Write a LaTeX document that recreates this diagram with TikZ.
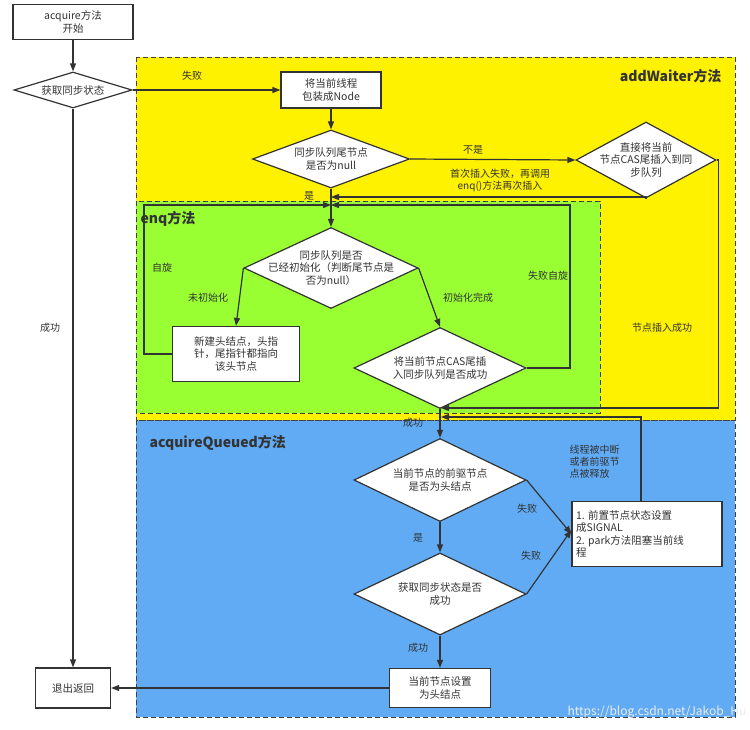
\documentclass[tikz,border=0pt]{standalone}
\usepackage{fontspec}
\setmainfont{Noto Sans CJK SC}
\usetikzlibrary{shapes.geometric,arrows.meta}
\begin{document}
\begin{tikzpicture}[x=1pt,y=-1pt,
  every node/.style={font=\fontsize{10.5}{12.5}\selectfont,text=black!80},
  box/.style={draw=black!80,line width=1.2pt,fill=white,align=center,inner sep=2pt},
  dia/.style={draw=black!80,line width=1.2pt,fill=white,diamond,aspect=2,align=center,inner sep=-8pt},
  ln/.style={draw=black!80,line width=1.2pt},
  ar/.style={ln,-{Triangle[length=8pt,width=6pt]}},
  lab/.style={font=\fontsize{10}{12}\selectfont,text=black!80},
  region/.style={draw=black!75,line width=1pt,dash pattern=on 5pt off 3pt},
  ttl/.style={font=\fontsize{14}{16}\selectfont\bfseries,text=black!80}]
\useasboundingbox (0,0) rectangle (750,729);
\fill[white] (0,0) rectangle (750,729);
% regions
\fill[yellow] (136,57) rectangle (735,420);
\fill[fill={rgb,255:red,97;green,171;blue,245}] (136,420) rectangle (735,717);
\fill[fill={rgb,255:red,153;green,255;blue,51}] (136,201) rectangle (600,413);
\draw[region] (136,57) rectangle (735,420);
\draw[region] (136,201) rectangle (600,413);
\draw[region] (136,420) rectangle (735,717);
\node[ttl,anchor=east] (t1) at (725,76) {addWaiter方法};
\node[ttl,anchor=west] (t2) at (137,219) {enq方法};
\node[ttl,anchor=west] (t3) at (146,443) {acquireQueued方法};
% left column
\node[box,minimum width=120pt,minimum height=35pt] (start) at (73,22) {acquire方法\\开始};
\node[dia,minimum width=118pt,minimum height=36pt] (get) at (73,90) {获取同步状态};
\node[box,minimum width=75pt,minimum height=40pt] (exit) at (73,688) {退出返回};
% addWaiter
\node[box,minimum width=100pt,minimum height=36pt] (wrap) at (331,90) {将当前线程\\包装成Node};
\node[dia,minimum width=157pt,minimum height=58pt] (tail) at (331,159) {同步队列尾节点\\是否为null};
\node[dia,minimum width=140pt,minimum height=76pt] (cas1) at (646,160) {直接将当前\\节点CAS尾插入到同\\步队列};
% enq
\node[dia,minimum width=174pt,minimum height=81pt] (init) at (331,268) {同步队列是否\\已经初始化（判断尾节点是\\否为null）};
\node[box,minimum width=127pt,minimum height=55pt] (newh) at (236,354) {新建头结点，头指\\针，尾指针都指向\\该头节点};
\node[dia,minimum width=172pt,minimum height=81pt] (cas2) at (440,368) {将当前节点CAS尾插\\入同步队列是否成功};
% acquireQueued
\node[dia,minimum width=172pt,minimum height=83pt] (pred) at (440,480) {当前节点的前驱节点\\是否为头结点};
\node[dia,minimum width=172pt,minimum height=82pt] (acq) at (440,594) {获取同步状态是否\\成功};
\node[box,minimum width=150pt,minimum height=65pt,align=left,text width=142pt] (park) at (647,534) {1.\ 前置节点状态设置\\成SIGNAL\\2.\ park方法阻塞当前线\\程};
\node[box,minimum width=101pt,minimum height=39pt] (head) at (440,688) {当前节点设置\\为头结点};
% coordinates
\coordinate (j1) at (331,197);
\coordinate (j2) at (331,205);
\coordinate (j3) at (441,408);
\coordinate (j4) at (441,417);
% connectors
\draw[ar] (get.east) -- (wrap.west);
\node[lab] (l1) at (192,76) {失败};
\draw[ar] (start) -- (get);
\draw[ar] (get) -- (exit);
\node[lab] (l2) at (50,328) {成功};
\draw[ar] (wrap) -- (tail);
\draw[ar] (tail.east) -- (cas1.west);
\node[lab] (l3) at (473,150) {不是};
\node[lab,align=center] (l4) at (500,180) {首次插入失败，再调用\\enq()方法再次插入};
\draw[ar] (cas1.south) |- (j1);
\draw[ar] (tail.south) -- (init.north);
\node[lab] (l5) at (309,196) {是};
\draw[ar] (cas1.east) -- ++(2,0) |- (j3);
\node[lab] (l6) at (662,328) {节点插入成功};
\draw[ar] (newh.west) -- (144,354) |- (j2);
\node[lab] (l7) at (162,268) {自旋};
\draw[ar] (cas2.east) -- (570,368) |- (j2);
\node[lab] (l8) at (548,276) {失败自旋};
\draw[ar] (init.west) -- (newh.north);
\node[lab] (l9) at (208,298) {未初始化};
\draw[ar] (init.east) -- (cas2.north);
\node[lab] (l10) at (468,298) {初始化完成};
\draw[ar] (cas2.south) -- (pred.north);
\node[lab] (l11) at (413,423) {成功};
\draw[ar] (pred.south) -- (acq.north);
\node[lab] (l12) at (418,538) {是};
\draw[ar] (pred.east) -- (park.west);
\node[lab] (l13) at (527,509) {失败};
\draw[ar] (acq.east) -- ([yshift=4pt]park.west);
\node[lab] (l14) at (531,556) {失败};
\draw[ar] (641,502) |- (j4);
\node[lab,align=left,anchor=west] (l15) at (566,462) {线程被中断\\或者前驱节\\点被释放};
\draw[ar] (acq.south) -- (head.north);
\node[lab] (l16) at (418,648) {成功};
\draw[ar] (head.west) -- (exit.east);
\node[font=\fontsize{12}{14}\selectfont,text=white!85!gray,anchor=east] (wm) at (750,712) {https://blog.csdn.net/Jakob\_Hu};
\end{tikzpicture}
\end{document}
